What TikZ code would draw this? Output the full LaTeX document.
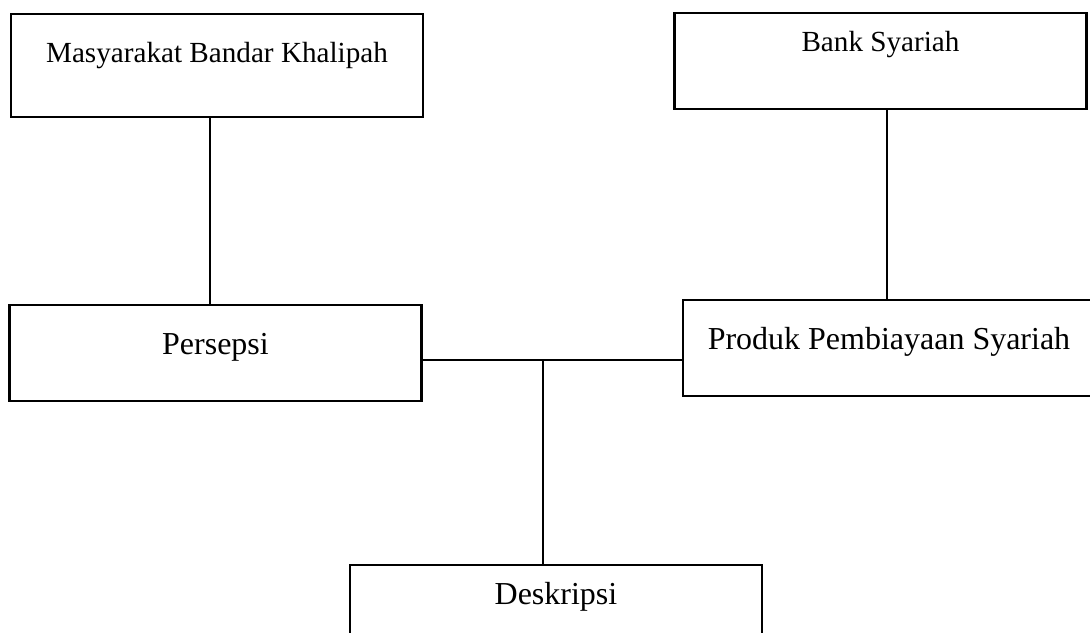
\documentclass[tikz,border=0pt]{standalone}
\usepackage{fontspec}
\setmainfont{Liberation Serif}
\usepackage{tikz}
\usetikzlibrary{calc,positioning}

\begin{document}
\begin{tikzpicture}[
  box/.style={draw,line width=0.6pt,inner sep=0pt,anchor=base,minimum width=4.12cm,font=\fontsize{9.1}{11}\selectfont},
  topbox/.style={box,font=\fontsize{8.3}{10}\selectfont},
  link/.style={line width=0.6pt}]
\useasboundingbox (0,0) rectangle (10.90,6.33);
% top row
\node [topbox,text height=0.49cm,text depth=0.54cm] (masyarakat) at (2.17,5.70) {Masyarakat Bandar Khalipah};
\node [topbox,text height=0.39cm,text depth=0.57cm] (bank) at (8.805,5.81) {Bank Syariah};
% middle row
\node [box,text height=0.50cm,text depth=0.46cm] (persepsi) at (2.155,2.78) {Persepsi};
\node [box,text height=0.50cm,text depth=0.46cm] (produk) at (8.89,2.83) {Produk Pembiayaan Syariah};
% bottom
\node [box,text height=0.40cm,text depth=0.60cm] (deskripsi) at (5.56,0.28) {Deskripsi};
\coordinate (join) at (5.43,2.73);
\draw [link] ([xshift=-0.07cm]masyarakat.south) -- ([xshift=-0.07cm]masyarakat.south |- persepsi.north);
\draw [link] ([xshift=0.065cm]bank.south) -- ([xshift=0.065cm]bank.south |- produk.north);
\draw [link] (join -| persepsi.east) -- (join -| produk.west);
\draw [link] (join) -- (join |- deskripsi.north);
\end{tikzpicture}
\end{document}
